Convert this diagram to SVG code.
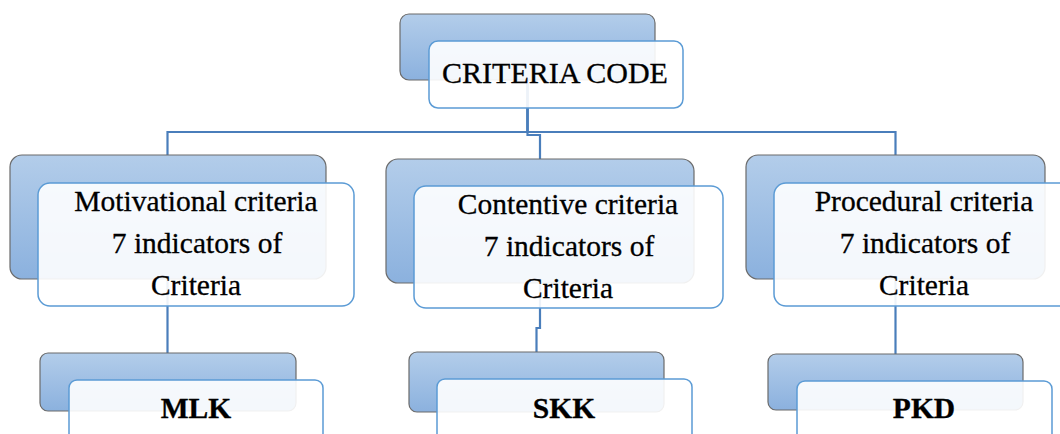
<svg xmlns="http://www.w3.org/2000/svg" width="1060" height="434" viewBox="0 0 1060 434">
<defs>
<linearGradient id="bg" x1="0" y1="0" x2="0" y2="1">
<stop offset="0" stop-color="#b3cdea"/>
<stop offset="1" stop-color="#8bb1de"/>
</linearGradient>
<style>
.back{fill:url(#bg);stroke:#6b6b6b;stroke-width:1.2}
.front{fill:#ffffff;fill-opacity:0.9;stroke:#5b9bd5;stroke-width:1.5}
.conn{fill:none;stroke:#4a7ebb;stroke-width:2.2}
.t{font-family:'Liberation Serif','Times New Roman',serif;font-size:29.5px;fill:#000;stroke:#000;stroke-width:0.3;text-anchor:middle}
.b{font-weight:bold}
</style>
</defs>
<rect width="1060" height="434" fill="#ffffff"/>
<g id="connectors">
<path class="conn" d="M527.5,80 V132 H167.5 V155"/>
<path class="conn" d="M527.5,80 V132 H895.5 V155"/>
<path class="conn" d="M527.5,80 V135 H540 V159"/>
<path class="conn" d="M167.5,279 V353"/>
<path class="conn" d="M540,283 V328 H536.5 V352"/>
<path class="conn" d="M895.5,279 V354"/>
</g>
<g id="node-root">
<rect class="back" x="400" y="14" width="255" height="66" rx="9"/>
<rect class="front" x="429" y="41" width="254" height="67" rx="9"/>
<text class="t" x="555" y="83" style="font-size:30px">CRITERIA CODE</text>
</g>
<g id="node-motivational">
<rect class="back" x="10" y="155" width="316" height="124" rx="12"/>
<rect class="front" x="38" y="183" width="316" height="123" rx="12"/>
<text class="t" x="196" y="211">Motivational criteria</text>
<text class="t" x="197" y="253">7 indicators of</text>
<text class="t" x="196" y="295">Criteria</text>
</g>
<g id="node-contentive">
<rect class="back" x="386" y="159" width="308" height="124" rx="12"/>
<rect class="front" x="414" y="186" width="309" height="122" rx="12"/>
<text class="t" x="568" y="214">Contentive criteria</text>
<text class="t" x="569" y="256">7 indicators of</text>
<text class="t" x="568" y="298">Criteria</text>
</g>
<g id="node-procedural">
<rect class="back" x="746" y="155" width="299" height="124" rx="12"/>
<rect class="front" x="774" y="183" width="300" height="123" rx="12"/>
<text class="t" x="924" y="211">Procedural criteria</text>
<text class="t" x="925" y="253">7 indicators of</text>
<text class="t" x="924" y="295">Criteria</text>
</g>
<g id="node-mlk">
<rect class="back" x="40" y="353" width="256" height="58" rx="8"/>
<rect class="front" x="69" y="380" width="254" height="70" rx="8"/>
<text class="t b" x="196" y="418">MLK</text>
</g>
<g id="node-skk">
<rect class="back" x="409" y="352" width="255" height="60" rx="8"/>
<rect class="front" x="437" y="379" width="255" height="70" rx="8"/>
<text class="t b" x="564" y="418">SKK</text>
</g>
<g id="node-pkd">
<rect class="back" x="768" y="354" width="255" height="56" rx="8"/>
<rect class="front" x="797" y="381" width="255" height="70" rx="8"/>
<text class="t b" x="924" y="418">PKD</text>
</g>
</svg>
